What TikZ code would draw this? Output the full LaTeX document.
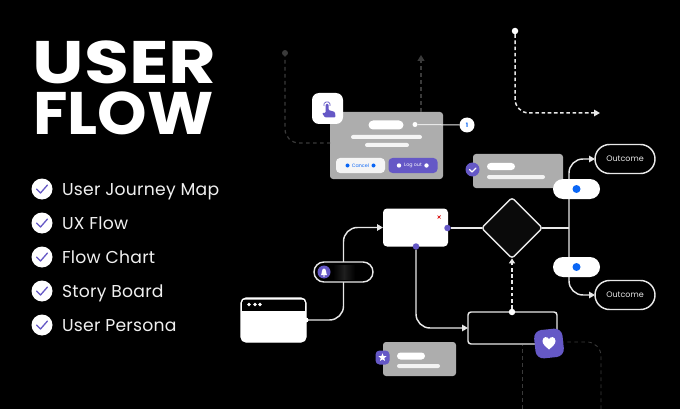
\documentclass[tikz,border=0pt]{standalone}
\usepackage{fontspec}
\setmainfont{Poppins}
\newfontfamily\lblfont{Poppins}[LetterSpace=1.5]
\usetikzlibrary{arrows.meta,shapes.geometric}
\definecolor{pur}{HTML}{6558C6}
\definecolor{blu}{HTML}{0A66F5}
\definecolor{wir}{HTML}{E8E8E8}
\definecolor{gcard}{HTML}{ADADAD}
\definecolor{dk}{HTML}{3A3A3A}
\tikzset{
 x=1pt,y=-1pt,
 base/.style={inner sep=0pt,outer sep=0pt},
 rbox/.style={base,rounded corners=#1,draw=none},
 wire/.style={draw=wir,line width=1.45pt,rounded corners=14pt},
 tipw/.style={-{Triangle[length=6pt,width=6.5pt,fill=wir]}},
 dashw/.style={draw=wir,line width=1.5pt,dash pattern=on 3.6pt off 2.6pt,rounded corners=14pt},
 dashd/.style={draw=dk,line width=1.2pt,dash pattern=on 3.6pt off 3.4pt,rounded corners=14pt},
 dot/.style={base,circle,fill=#1,minimum size=6.5pt},
 card/.style={rbox=3pt,fill=gcard},
 outc/.style={base,draw=wir,line width=1.45pt,rounded corners=14.5pt,minimum width=60pt,minimum height=29pt,fill=black,text=wir,font=\fontsize{8}{9}\selectfont},
 wpill/.style={base,rounded corners=10pt,fill=white,minimum width=47pt,minimum height=20pt},
 bar/.style={base,rounded corners=#1,fill=white},
 lbl/.style={base,anchor=base west,text=white!94!black,font=\lblfont\fontsize{17.2}{20}\selectfont},
 ttl/.style={base,anchor=base west,text=white,text height=42pt,text depth=0pt,transform shape,font=\bfseries\fontsize{60}{60}\selectfont},
 chkc/.style={base,circle,fill=white,minimum size=21pt},
 chkp/.style={line width=1.3pt,line cap=round,line join=round},
}
\begin{document}
\begin{tikzpicture}
\fill[black] (0,0) rectangle (680,409);
\useasboundingbox (0,0) rectangle (680,409);
% title
\node[ttl,xscale=1.22] (t1) at (32.5,84) {USER};
\node[ttl,xscale=1.05] (t2) at (33,135) {FLOW};
% list
\foreach \i/\yy/\tx in {1/189/User Journey Map,2/223/UX Flow,3/257/Flow Chart,4/291/Story Board,5/325/User Persona}{
 \node[chkc] (c\i) at (42,\yy) {};
 \draw[chkp,draw=pur] (36.5,\yy) -- (40.5,\yy+4) -- (47.5,\yy-4);
 \node[lbl] (l\i) at (62,\yy+6) {\tx};
}
% dark dashed
\coordinate (ds) at (285,53);
\coordinate (dup) at (421,55);
\fill[dk] (ds) circle (3pt);
% gray card with hand
\node[card,minimum width=113pt,minimum height=67pt] (logout) at (386.5,145.5) {};
\draw[dashd] (ds) |- (logout.west|-0,143);
\draw[dashd,-{Triangle[length=6pt,width=7pt,fill=dk]}] (logout.north-|dup) -- (dup);
\node[bar=4.5pt,minimum width=35pt,minimum height=9pt] (p1) at (386,125) {};
\node[base,rounded corners=2pt,fill=white!88!gcard,minimum width=71pt,minimum height=4pt] (b1) at (386.5,137) {};
\node[base,rounded corners=2pt,fill=white!88!gcard,minimum width=44pt,minimum height=4pt] (b2) at (387,145) {};
\node[base,rounded corners=4pt,fill=white!88!gcard,minimum width=49pt,minimum height=15pt,text=blu,font=\fontsize{4.8}{5}\selectfont] (bc) at (360.5,165.5) {Cancel};
\node[base,rounded corners=4pt,fill=pur,minimum width=49pt,minimum height=15pt,text=white,font=\fontsize{4.8}{5}\selectfont] (bl) at (413,165.5) {Log out};
\fill[blu] (347.5,165.5) circle (2pt) (373.5,165.5) circle (2pt);
\fill[white] (399,165.5) circle (2.2pt) (426.5,165.5) circle (2.2pt);
\node[base,circle,fill=white,minimum size=15pt,text=blu,font=\bfseries\fontsize{6}{7}\selectfont] (one) at (467,125) {1};
\node[dot=white,minimum size=5pt] (od) at (415,124.5) {};
\draw[draw=wir,line width=1pt] (od) -- (one);
\node[bar=7pt,minimum width=31pt,minimum height=31pt] (hand) at (327.5,108.5) {};
\begin{scope}
 \draw[pur,line width=.7pt] (327,104.5) ++(-3,1.5) arc[start angle=200,end angle=-20,radius=3.2pt];
 \fill[pur,rounded corners=1pt] (325.5,104) -- (328.5,104) -- (328.5,110) -- (335,112) -- (335.5,117.5) -- (325,117.5) -- (322,113) -- (325.5,113) -- cycle;
\end{scope}
% top right dashed
\node[dot=white] (ws) at (515,31) {};
\coordinate (we) at (600,113);
\draw[dashw,-{Triangle[length=6pt,width=6.5pt,fill=wir]}] (ws) |- (we);
% check card
\node[card,minimum width=90pt,minimum height=34pt] (cc) at (518,171) {};
\node[bar=3.5pt,minimum width=28pt,minimum height=7pt] at (501,166.5) {};
\node[base,rounded corners=2pt,fill=white!85!gcard,minimum width=58pt,minimum height=4pt] at (516,177) {};
\node[base,circle,fill=pur,minimum size=14pt] (cb) at (472.5,169.5) {};
\draw[white,line width=1.1pt,line cap=round,line join=round] (469.5,169.5) -- (472,172) -- (476,168);
% outcomes
\node[outc] (o1) at (625,159) {Outcome};
\node[outc] (o2) at (625,295) {Outcome};
\node[base,rectangle,rounded corners=3pt,rotate=45,minimum size=43pt,draw=wir,line width=1.45pt,fill=black!96!white] (dia) at (512,228) {};
\node[rbox=4pt,fill=white,minimum width=65pt,minimum height=38pt] (win) at (415.5,227.5) {};
\node[rbox=3pt,draw=wir,line width=1.45pt,fill=black,minimum width=89pt,minimum height=32pt] (sub) at (512.5,328) {};
\node[rbox=5pt,fill=white,minimum width=65pt,minimum height=44pt] (brow) at (273.5,320) {};
\fill[black,rounded corners=3pt] (242,299.5) rectangle (305,309);
\fill[black] (242,305) rectangle (305,310.5);
\foreach \k [count=\j] in {249,255,260}{\node[dot=white,minimum size=3.6pt] (bd\j) at (\k,304.5) {};}
\draw[draw=white,line width=1.2pt,rounded corners=5pt] (brow.south west) rectangle (brow.north east);
% connectors
\node[base,rounded corners=10pt,minimum width=59pt,minimum height=20pt] (bpill) at (343.5,272) {};
\draw[wire,tipw] (brow.east) -| (bpill.center) |- (win.west);
\node[dot=white,minimum size=5pt] at (brow.east) {};
\node[dot=pur] (dr) at (447.5,228) {};
\node[dot=pur] (db) at (416,246.5) {};
\coordinate (jct) at (569,228);
\draw[wire] (dr) -- (dia.north west);
\draw[wire] (dia.south east) -- (jct);
\draw[wire,tipw] (jct) |- (o1.west);
\draw[wire,tipw] (jct) |- (o2.west);
\draw[wire,tipw] (db) |- (sub.west);
\node[dot=white] (sd) at (512,312) {};
\draw[dashw,-{Triangle[length=5pt,width=6pt,fill=wir]}] (sd) -- (dia.south west);
% pills
\node[wpill] (pa) at (576.5,189) {};
\node[wpill] (pb) at (576.5,267) {};
\node[dot=blu,minimum size=8pt] at (pa) {};
\node[dot=blu,minimum size=8pt] at (pb) {};
% bell pill
\node[base,rounded corners=10pt,draw=wir,line width=1.45pt,fill=black,minimum width=59pt,minimum height=20pt] (bp2) at (343.5,272) {};
\shade[left color=black,right color=black,middle color=black!88!white] (333,265) rectangle (355,279);
\node[base,circle,fill=pur,minimum size=13pt] (bell) at (324,272) {};
\fill[white] (321,275) .. controls (322,274) and (321.5,268.5) .. (324,268.5) .. controls (326.5,268.5) and (326,274) .. (327,275) -- cycle;
\fill[white] (324,276) circle (.9pt);
% red x
\draw[red!85!black,line width=.7pt] (437.5,215.5) -- (440.5,218.5) (437.5,218.5) -- (440.5,215.5);
% star card
\node[card,minimum width=73pt,minimum height=34pt] (sc) at (419.5,359) {};
\node[bar=3.5pt,minimum width=28pt,minimum height=7pt] at (411,356) {};
\node[base,rounded corners=2pt,fill=white!85!gcard,minimum width=43pt,minimum height=4pt] at (418.5,366) {};
\node[base,rounded corners=4pt,fill=pur,minimum size=14pt] (sb) at (382.5,357.5) {};
\node[base,star,star points=5,star point ratio=2.3,fill=white,minimum size=8.5pt] at (382.5,357.5) {};
% lower dashes
\coordinate (ld1) at (522,409);
\coordinate (ld2) at (601,409);
\node[base,rounded corners=8pt,fill=pur,minimum size=28.5pt,rotate=6] (hb) at (549,343.5) {};
\draw[dashd,line width=.9pt] (ld1) -- (522,344.5);
\draw[dashd,line width=.9pt] (ld2) |- (hb.east);
\fill[white] (549,349.5) .. controls (545,346) and (542.5,344) .. (542.5,341) .. controls (542.5,336.5) and (547.5,336) .. (549,339) .. controls (550.5,336) and (555.5,336.5) .. (555.5,341) .. controls (555.5,344) and (553,346) .. (549,349.5) -- cycle;
\end{tikzpicture}
\end{document}
